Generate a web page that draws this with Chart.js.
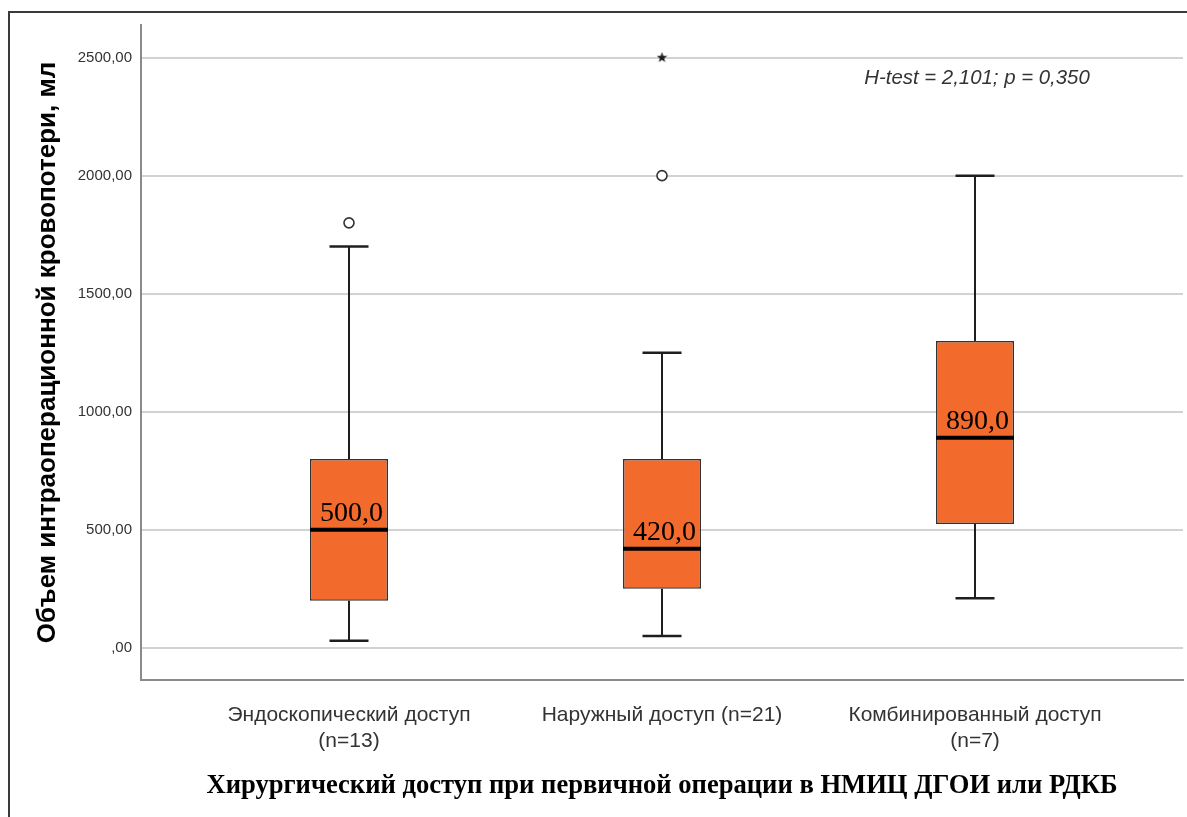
<!DOCTYPE html>
<html lang="ru">
<head>
<meta charset="utf-8">
<title>Объем интраоперационной кровопотери</title>
<script src="https://cdn.jsdelivr.net/npm/chart.js@4.4.1/dist/chart.umd.min.js"></script>
<style>
  html, body { margin: 0; padding: 0; background: #fff; overflow: hidden; }
  #wrap { position: relative; width: 1187px; height: 817px; }
</style>
</head>
<body>
<div id="wrap"><canvas id="chart"></canvas></div>
<script>
// Groups (x axis categories, multi-line where needed)
const categories = [
  ['Эндоскопический доступ', '(n=13)'],
  'Наружный доступ (n=21)',
  ['Комбинированный доступ', '(n=7)']
];

// Box-plot statistics per group, ml
const whiskerLow  = [30, 50, 210];
const quartile1   = [200, 250, 525];
const medians     = [500, 420, 890];
const quartile3   = [800, 800, 1300];
const whiskerHigh = [1700, 1250, 2000];

// Outliers (circles) and extreme values (stars): group index + value
const outlierGroup = [0, 1];
const outlierValue = [1800, 2000];
const extremeGroup = [1];
const extremeValue = [2500];

// Y axis ticks
const yTickValues = [0, 500, 1000, 1500, 2000, 2500];
const yTickLabels = [',00', '500,00', '1000,00', '1500,00', '2000,00', '2500,00'];

const yTitle = 'Объем интраоперационной кровопотери, мл';
const xTitle = 'Хирургический доступ при первичной операции в НМИЦ ДГОИ или РДКБ';
const testNote = 'H-test = 2,101; p = 0,350';

const groupIdx = categories.map((_, i) => i);
const fmtMedian = v => v.toFixed(1).replace('.', ',');

// Filled five-point star used as the marker for extreme values
function makeStar(size, color) {
  const c = document.createElement('canvas');
  c.width = size; c.height = size;
  const g = c.getContext('2d');
  const cx = size / 2, cy = size / 2, R = size / 2, r = R * 0.42;
  g.beginPath();
  for (let k = 0; k < 10; k++) {
    const rad = (k % 2 === 0) ? R : r;
    const a = -Math.PI / 2 + k * Math.PI / 5;
    const px = cx + rad * Math.cos(a), py = cy + rad * Math.sin(a);
    if (k === 0) g.moveTo(px, py); else g.lineTo(px, py);
  }
  g.closePath();
  g.fillStyle = color;
  g.fill();
  return c;
}
const starMarker = makeStar(11, '#1e1e1e');

const SANS = "'Liberation Sans', Arial, sans-serif";
const SERIF = "'Liberation Serif', 'Times New Roman', serif";

// Outer frame of the figure
const framePlugin = {
  id: 'frame',
  afterDraw(chart) {
    const ctx = chart.ctx;
    ctx.save();
    ctx.strokeStyle = '#3a3a3a';
    ctx.lineWidth = 2;
    ctx.beginPath();
    ctx.moveTo(9, chart.height + 2);
    ctx.lineTo(9, 12);
    ctx.lineTo(chart.width + 2, 12);
    ctx.stroke();
    ctx.restore();
  }
};

// Median values written above the median lines, plus the test annotation
const labelPlugin = {
  id: 'medianLabels',
  afterDatasetsDraw(chart) {
    const ctx = chart.ctx, xs = chart.scales.x, ys = chart.scales.y;
    ctx.save();
    ctx.fillStyle = '#000';
    ctx.font = '28px ' + SERIF;
    ctx.textAlign = 'center';
    ctx.textBaseline = 'alphabetic';
    medians.forEach((m, i) => {
      ctx.fillText(fmtMedian(m), xs.getPixelForValue(i) + 2.5, ys.getPixelForValue(m) - 9);
    });
    ctx.font = 'italic 20.4px ' + SANS;
    ctx.fillStyle = '#333';
    ctx.textBaseline = 'middle';
    ctx.fillText(testNote, xs.getPixelForValue(2) + 2, ys.getPixelForValue(2500) + 21);
    ctx.restore();
  }
};

const lineColor = '#1e1e1e';

new Chart(document.getElementById('chart'), {
  type: 'bar',
  data: {
    datasets: [
      {
        type: 'scatter', label: 'Медиана',
        data: groupIdx.map(i => ({ x: i, y: medians[i] })),
        pointStyle: 'line', pointRadius: 39, pointBorderWidth: 4,
        borderColor: '#000', order: 0
      },
      {
        type: 'scatter', label: 'Выбросы',
        data: outlierGroup.map((g, k) => ({ x: g, y: outlierValue[k] })),
        pointStyle: 'circle', pointRadius: 5, pointBorderWidth: 1.6,
        borderColor: '#333', backgroundColor: '#fff', order: 1
      },
      {
        type: 'scatter', label: 'Экстремальные значения',
        data: extremeGroup.map((g, k) => ({ x: g, y: extremeValue[k] })),
        pointStyle: starMarker, order: 1
      },
      {
        type: 'scatter', label: 'Границы усов',
        data: groupIdx.map(i => ({ x: i, y: whiskerLow[i] }))
          .concat(groupIdx.map(i => ({ x: i, y: whiskerHigh[i] }))),
        pointStyle: 'line', pointRadius: 19.5, pointBorderWidth: 2.5,
        borderColor: lineColor, order: 2
      },
      {
        type: 'bar', label: 'Межквартильный размах',
        data: groupIdx.map(i => ({ x: i, y: [quartile1[i], quartile3[i]] })),
        backgroundColor: '#F26A2C', borderColor: '#333', borderWidth: 1.5,
        borderSkipped: false, grouped: false, maxBarThickness: 78, order: 3
      },
      {
        type: 'bar', label: 'Нижний ус',
        data: groupIdx.map(i => ({ x: i, y: [whiskerLow[i], quartile1[i]] })),
        backgroundColor: lineColor, borderWidth: 0,
        grouped: false, maxBarThickness: 2, order: 4
      },
      {
        type: 'bar', label: 'Верхний ус',
        data: groupIdx.map(i => ({ x: i, y: [quartile3[i], whiskerHigh[i]] })),
        backgroundColor: lineColor, borderWidth: 0,
        grouped: false, maxBarThickness: 2, order: 4
      }
    ]
  },
  options: {
    responsive: true,
    maintainAspectRatio: false,
    animation: false,
    layout: { autoPadding: false, padding: { left: 0, top: 25, right: 4, bottom: 0 } },
    plugins: { legend: { display: false }, tooltip: { enabled: false } },
    scales: {
      x: {
        type: 'linear', min: -0.6645, max: 2.6645, offset: false,
        grid: { display: false },
        border: { display: true, color: '#8a8a8a', width: 2 },
        afterBuildTicks: s => { s.ticks = groupIdx.map(v => ({ value: v })); },
        afterFit: s => {
          s.height = 137;
          s.paddingLeft = 0; s.paddingRight = 0;
        },
        ticks: {
          autoSkip: false, maxRotation: 0, minRotation: 0, padding: 15,
          color: '#333', font: { family: SANS, size: 21 },
          callback: (v, i) => categories[i]
        },
        title: {
          display: true, text: xTitle, color: '#000',
          font: { family: SERIF, size: 26.6, weight: 'bold' },
          padding: { top: 0, bottom: 15 }
        }
      },
      y: {
        type: 'linear', min: -136, max: 2638,
        grid: { color: '#d2d2d2', lineWidth: 2, drawTicks: false },
        border: { display: true, color: '#8a8a8a', width: 2 },
        afterBuildTicks: s => { s.ticks = yTickValues.map(v => ({ value: v })); },
        afterFit: s => {
          s.width = 141;
          s.paddingTop = 0; s.paddingBottom = 0;
        },
        ticks: {
          padding: 9, color: '#333', font: { family: SANS, size: 15 },
          callback: (v, i) => yTickLabels[i]
        },
        title: {
          display: true, text: yTitle, color: '#000',
          font: { family: SANS, size: 26, weight: 'bold' },
          padding: { top: 32, bottom: 0 }
        }
      }
    }
  },
  plugins: [framePlugin, labelPlugin]
});
</script>
</body>
</html>
